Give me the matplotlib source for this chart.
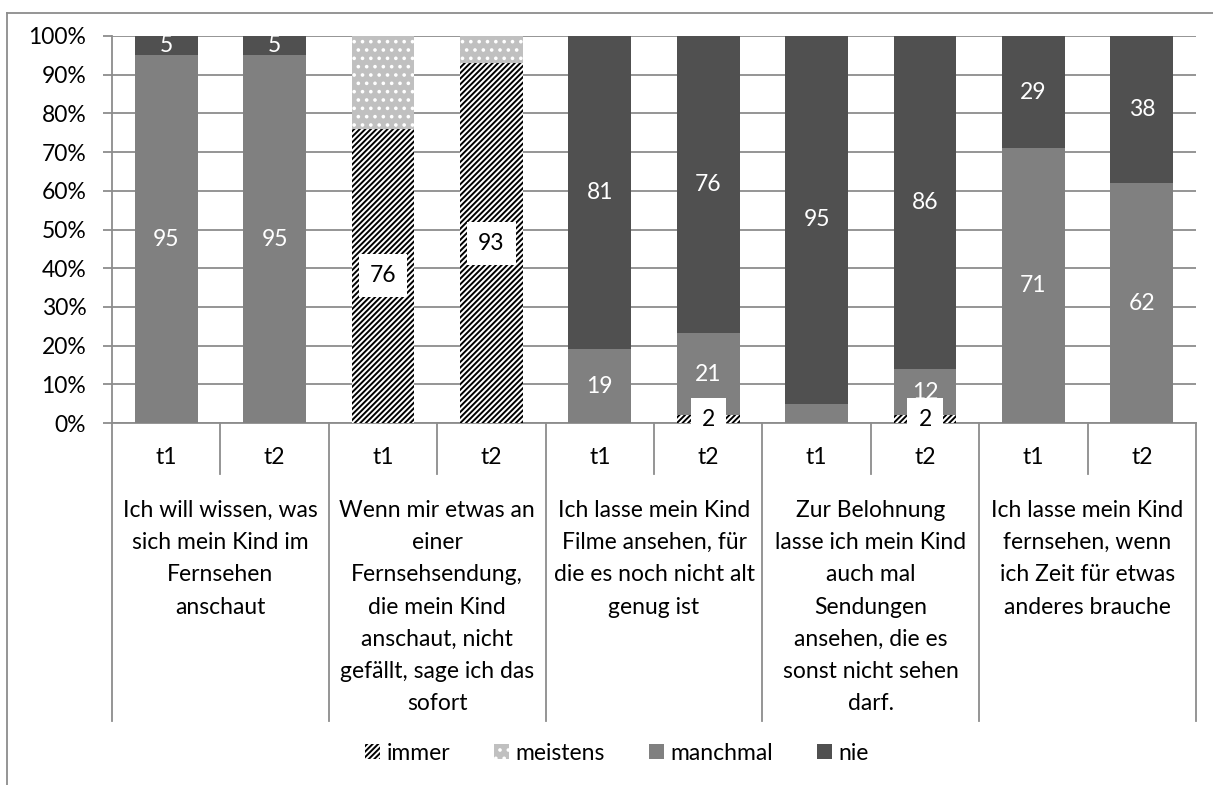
import matplotlib
matplotlib.use("Agg")
import matplotlib.pyplot as plt
import numpy as np
from matplotlib.transforms import blended_transform_factory
from matplotlib.lines import Line2D

plt.rcParams['font.family'] = ['Lato', 'DejaVu Sans']
plt.rcParams['hatch.linewidth'] = 1.4

# ---- data ---------------------------------------------------------------
groups = [
    "Ich will wissen, was\nsich mein Kind im\nFernsehen\nanschaut",
    "Wenn mir etwas an\neiner\nFernsehsendung,\ndie mein Kind\nanschaut, nicht\ngefällt, sage ich das\nsofort",
    "Ich lasse mein Kind\nFilme ansehen, für\ndie es noch nicht alt\ngenug ist",
    "Zur Belohnung\nlasse ich mein Kind\nauch mal\nSendungen\nansehen, die es\nsonst nicht sehen\ndarf.",
    "Ich lasse mein Kind\nfernsehen, wenn\nich Zeit für etwas\nanderes brauche",
]
times = ["t1", "t2"]
series_names = ["immer", "meistens", "manchmal", "nie"]

immer    = [0, 0, 76, 93, 0, 2, 0, 2, 0, 0]
meistens = [0, 0, 24, 7, 0, 0, 0, 0, 0, 0]
manchmal = [95, 95, 0, 0, 19, 21, 5, 12, 71, 62]
nie      = [5, 5, 0, 0, 81, 76, 95, 86, 29, 38]

# which values carry a printed label
show_immer    = [False, False, True, True, False, True, False, True, False, False]
show_meistens = [False] * 10
show_manchmal = [True, True, False, False, True, True, False, True, True, True]
show_nie      = [True, True, False, False, True, True, True, True, True, True]

yticks = [0, 10, 20, 30, 40, 50, 60, 70, 80, 90, 100]
ytick_labels = [f"{v}%" for v in yticks]

# ---- figure -------------------------------------------------------------
W, H = 1213, 785
fig = plt.figure(figsize=(W / 100, H / 100), dpi=100)
px = lambda x: x / W
py = lambda y: 1 - y / H

ax_left, ax_right, ax_top, ax_bottom = 112, 1196, 36, 423
ax = fig.add_axes([px(ax_left), py(ax_bottom), px(ax_right - ax_left),
                   (ax_bottom - ax_top) / H])

grid_c = "#8c8c8c"
fs = 16.5

data = np.array([immer, meistens, manchmal, nie], dtype=float)
totals = data.sum(axis=0)
pct = data / totals * 100

x = np.arange(10)
bw = 0.58
styles = [
    dict(color="white", edgecolor="black", hatch="//////", linewidth=0),
    dict(color="#c0c0c0", edgecolor="white", hatch="..", linewidth=0),
    dict(color="#808080", linewidth=0),
    dict(color="#505050", linewidth=0),
]
shows = [show_immer, show_meistens, show_manchmal, show_nie]

bottom = np.zeros(10)
handles = []
for i, name in enumerate(series_names):
    bars = ax.bar(x, pct[i], bw, bottom=bottom, label=name, zorder=3, **styles[i])
    handles.append(bars)
    for j in range(10):
        if shows[i][j] and data[i, j] > 0:
            yc = bottom[j] + pct[i, j] / 2
            val = int(data[i, j])
            if i == 0:
                ax.text(x[j], yc, str(val), ha="center", va="center", fontsize=fs,
                        color="black", zorder=5, clip_on=False,
                        bbox=dict(boxstyle="square,pad=0.48", fc="white", ec="none"))
            else:
                ax.text(x[j], yc, str(val), ha="center", va="center", fontsize=fs,
                        color="white", zorder=5)
    bottom += pct[i]

ax.set_xlim(-0.5, 9.5)
ax.set_ylim(0, 100)
ax.set_yticks(yticks)
ax.set_yticklabels(ytick_labels, fontsize=fs)
ax.yaxis.grid(True, color=grid_c, linewidth=1.3, zorder=0)
ax.set_axisbelow(True)
ax.tick_params(axis="y", length=6.5, width=1.3, color=grid_c, pad=12)
ax.set_xticks([])
for s in ["top", "right"]:
    ax.spines[s].set_visible(False)
for s in ["left", "bottom"]:
    ax.spines[s].set_color(grid_c)
    ax.spines[s].set_linewidth(1.3)

# ---- multi-level category axis ------------------------------------------
tr = blended_transform_factory(ax.transData, fig.transFigure)
for b in np.arange(-0.5, 10, 2.0):
    fig.add_artist(Line2D([b, b], [py(ax_bottom), py(721)], transform=tr,
                          color=grid_c, lw=1.3))
for b in np.arange(0.5, 10, 2.0):
    fig.add_artist(Line2D([b, b], [py(ax_bottom), py(474)], transform=tr,
                          color=grid_c, lw=1.3))
for j in range(10):
    fig.text(0, 0, times[j % 2], transform=tr, fontsize=fs, ha="center", va="center") \
        .set_position((x[j], py(458)))
for g, label in enumerate(groups):
    fig.text(0, 0, label, transform=tr, fontsize=fs, ha="center", va="top",
             linespacing=1.66).set_position((2 * g + 0.5, py(500)))

# ---- outer frame (top and left edge) --------------------------------------
fig.add_artist(Line2D([px(7), 1], [py(13), py(13)], transform=fig.transFigure,
                      color=grid_c, lw=1.3))
fig.add_artist(Line2D([px(7), px(7)], [py(13), 0], transform=fig.transFigure,
                      color=grid_c, lw=1.3))

# ---- legend ---------------------------------------------------------------
fig.legend(handles=handles, labels=series_names, loc="center",
           bbox_to_anchor=(px(617), py(753)), ncol=4, frameon=False,
           fontsize=fs, handlelength=0.65, handleheight=0.65, handletextpad=0.3,
           columnspacing=1.9)

fig.savefig("out.png", dpi=100)
